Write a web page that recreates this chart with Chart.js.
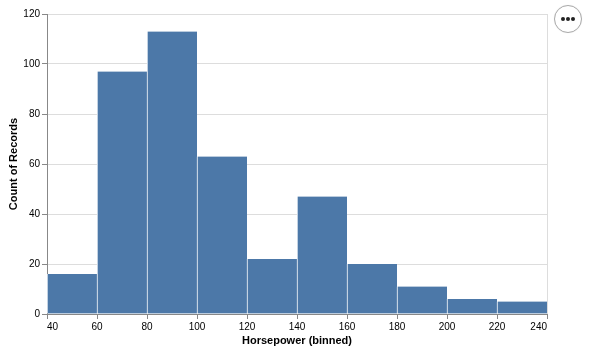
<!DOCTYPE html>
<html>
<head>
<meta charset="utf-8">
<script src="https://cdn.jsdelivr.net/npm/chart.js@4"></script>
<style>
  body { margin: 0; background: #fff; }
  #wrap { position: relative; width: 589px; height: 362px; }
  #more {
    position: absolute; left: 554px; top: 5px; width: 26px; height: 26px;
    border: 1px solid #aaa; border-radius: 50%; background: #fff;
    box-shadow: 0 0 1px rgba(0,0,0,0.1);
  }
  #more svg { position: absolute; left: 0; top: 0; }
</style>
</head>
<body>
<div id="wrap">
  <canvas id="myChart" width="589" height="362"></canvas>
  <div id="more">
    <svg width="26" height="26"><circle cx="8" cy="13" r="2" fill="#222"/><circle cx="13" cy="13" r="2" fill="#222"/><circle cx="18" cy="13" r="2" fill="#222"/></svg>
  </div>
</div>
<script>
// histogram of horsepower, bins of 20
var binStart = [40, 60, 80, 100, 120, 140, 160, 180, 200, 220];
var binSize = 20;
var counts = [16, 97, 113, 63, 22, 47, 20, 11, 6, 5];
var xTicks = [40, 60, 80, 100, 120, 140, 160, 180, 200, 220, 240];
var yTicks = [0, 20, 40, 60, 80, 100, 120];

var points = binStart.map(function (b, i) {
  return { x: b + binSize / 2, y: counts[i] };
});

var font = "'Liberation Sans', Arial, sans-serif";

new Chart("myChart", {
  type: "bar",
  data: {
    datasets: [
      {
        data: points,
        backgroundColor: "#4c78a8",
        borderColor: "#ffffff",
        borderWidth: { left: 1, right: 0, top: 0, bottom: 0 },
        borderSkipped: false,
        barPercentage: 1,
        categoryPercentage: 1,
      },
    ],
  },
  options: {
    responsive: false,
    animation: false,
    devicePixelRatio: 1,
    layout: { padding: { left: 0, top: 14, right: 42, bottom: 0 } },
    plugins: { legend: { display: false }, tooltip: { enabled: false } },
    scales: {
      x: {
        type: "linear",
        offset: false,
        min: xTicks[0],
        max: xTicks[xTicks.length - 1],
        afterBuildTicks: function (s) {
          s.ticks = xTicks.map(function (v) { return { value: v }; });
        },
        afterFit: function (s) { s.height = 48; },
        border: { color: "#888", width: 1 },
        grid: {
          offset: false,
          drawOnChartArea: true,
          tickLength: 5,
          tickColor: "#888",
          // only the right frame line of the view, no vertical grid
          color: function (c) {
            return c.tick && c.tick.value === 240 ? "#ddd" : "rgba(0,0,0,0)";
          },
        },
        ticks: {
          color: "#000",
          padding: 2,
          align: "inner",
          maxRotation: 0,
          autoSkip: false,
          font: { family: font, size: 10 },
        },
        title: {
          display: true,
          text: "Horsepower (binned)",
          color: "#000",
          font: { family: font, size: 11, weight: "bold" },
          padding: { top: 0, bottom: 14 },
        },
      },
      y: {
        min: 0,
        max: 120,
        afterBuildTicks: function (s) {
          s.ticks = yTicks.map(function (v) { return { value: v }; });
        },
        afterFit: function (s) { s.width = 47; },
        border: { color: "#888", width: 1 },
        grid: { color: "#ddd", tickColor: "#888", tickLength: 5 },
        ticks: {
          color: "#000",
          padding: 2,
          font: { family: font, size: 10 },
        },
        title: {
          display: true,
          text: "Count of Records",
          color: "#000",
          font: { family: font, size: 11, weight: "bold" },
          padding: { top: 7, bottom: 0 },
        },
      },
    },
  },
});
</script>
</body>
</html>
